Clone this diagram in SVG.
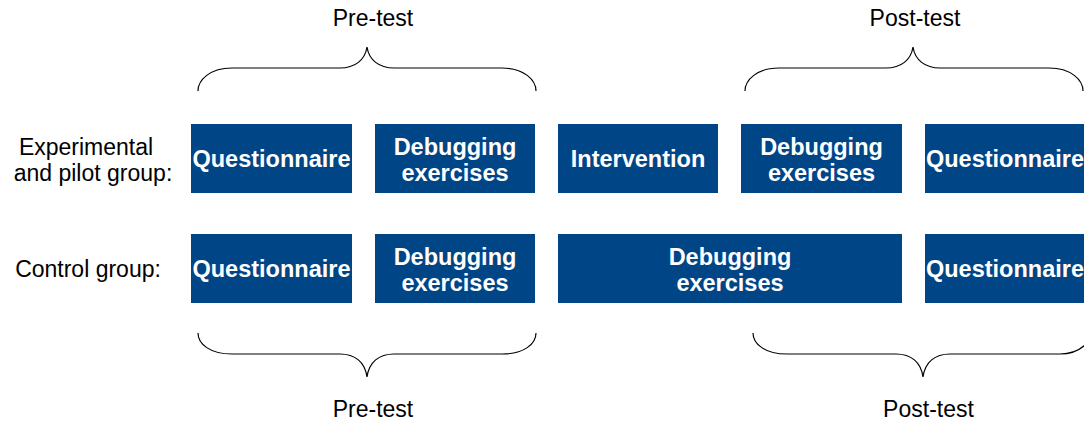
<svg xmlns="http://www.w3.org/2000/svg" width="1084" height="421" viewBox="0 0 1084 421">
<style>
.box{fill:#004586;}
.bt{fill:#fff;font-family:"Liberation Sans",Arial,sans-serif;font-weight:bold;font-size:23.5px;text-anchor:middle;}
.lt{fill:#000;font-family:"Liberation Sans",Arial,sans-serif;font-size:23px;text-anchor:middle;}
.br{fill:none;stroke:#000;stroke-width:1.2;}
</style>
<rect width="1084" height="421" fill="#fff"/>
<g id="labels">
<text class="lt" x="373" y="26">Pre-test</text>
<text class="lt" x="915" y="26">Post-test</text>
<text class="lt" x="373" y="417">Pre-test</text>
<text class="lt" x="928.5" y="417">Post-test</text>
<text class="lt" x="86" y="155">Experimental</text>
<text class="lt" x="93" y="181">and pilot group:</text>
<text class="lt" x="88" y="277">Control group:</text>
</g>
<g id="connectors">
<path class="br" d="M198,91 C198,80 210,68 232,68 L340,68 C355,68 365,60 367,47 C369,60 379,68 394,68 L502,68 C524,68 536,80 536,91"/>
<path class="br" d="M745,91 C745,80 757,68 779,68 L886,68 C901,68 911,60 913,47 C915,60 925,68 940,68 L1049,68 C1071,68 1083,80 1083,91"/>
<path class="br" d="M198,333 C198,344 210,354 232,354 L340,354 C355,354 365,362 367,377 C369,362 379,354 394,354 L502,354 C524,354 536,344 536,333"/>
<path class="br" d="M753,333 C753,344 765,354 787,354 L896,354 C911,354 921,362 923,377 C925,362 935,354 950,354 L1060,354 C1072,354 1080,350 1086,344"/>
</g>
<g id="n1"><rect class="box" x="191" y="124" width="161" height="69"/><text class="bt" x="271.5" y="167">Questionnaire</text></g>
<g id="n2"><rect class="box" x="375" y="124" width="160" height="69"/><text class="bt" x="455" y="155">Debugging</text><text class="bt" x="455" y="181">exercises</text></g>
<g id="n3"><rect class="box" x="558" y="124" width="160" height="69"/><text class="bt" x="638" y="167">Intervention</text></g>
<g id="n4"><rect class="box" x="741" y="124" width="161" height="69"/><text class="bt" x="821.5" y="155">Debugging</text><text class="bt" x="821.5" y="181">exercises</text></g>
<g id="n5"><rect class="box" x="925" y="124" width="159" height="69"/><text class="bt" x="1005" y="167">Questionnaire</text></g>
<g id="n6"><rect class="box" x="191" y="234" width="161" height="69"/><text class="bt" x="271.5" y="277">Questionnaire</text></g>
<g id="n7"><rect class="box" x="375" y="234" width="160" height="69"/><text class="bt" x="455" y="265">Debugging</text><text class="bt" x="455" y="291">exercises</text></g>
<g id="n8"><rect class="box" x="558" y="234" width="344" height="69"/><text class="bt" x="730" y="265">Debugging</text><text class="bt" x="730" y="291">exercises</text></g>
<g id="n9"><rect class="box" x="925" y="234" width="159" height="69"/><text class="bt" x="1005" y="277">Questionnaire</text></g>
</svg>
